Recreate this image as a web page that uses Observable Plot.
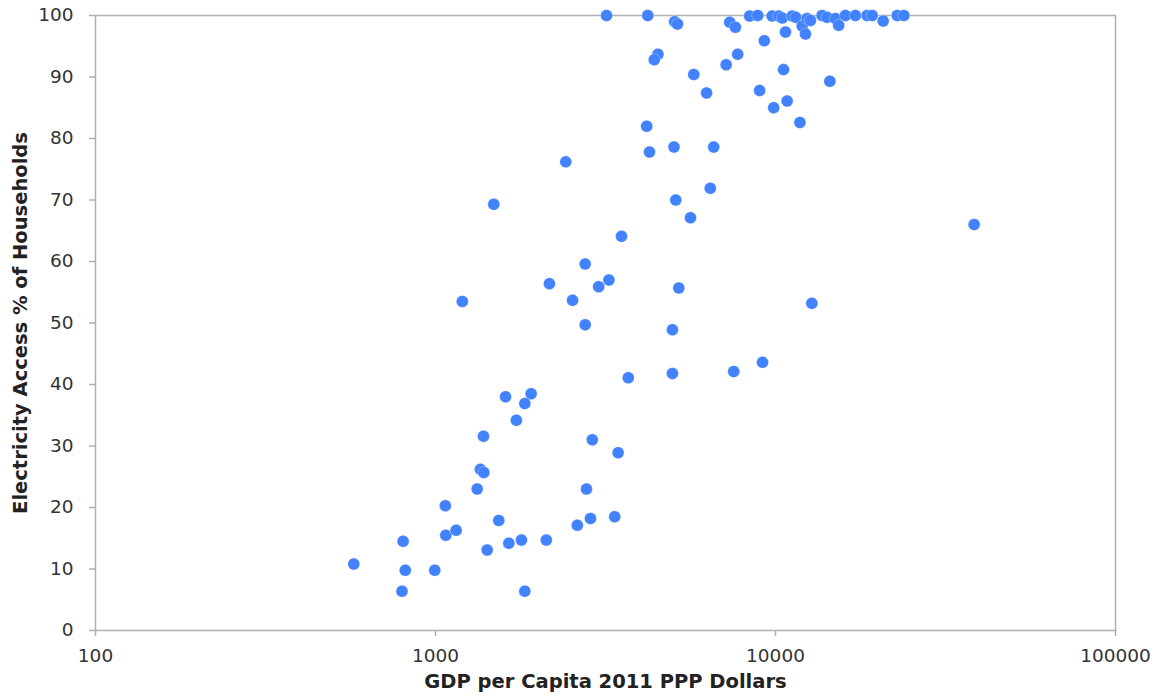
<!DOCTYPE html>
<html>
<head>
<meta charset="utf-8">
<script src="https://cdn.jsdelivr.net/npm/d3@7"></script>
<script src="https://cdn.jsdelivr.net/npm/@observablehq/plot@0.6"></script>
<style>
  html, body { margin: 0; padding: 0; background: #fff; }
  #chart { width: 1161px; height: 698px; }
</style>
</head>
<body>
<div id="chart"></div>
<script>
const gdp = [3184, 4210, 5050, 5150, 7337, 7621, 8395, 8865, 9775, 10230, 10470, 11200, 11460, 11980, 12250, 12390, 12670, 13710, 14180, 15000, 15340, 16060, 17180, 18600, 19250, 20740, 22800, 23850,
  10700, 9270, 4510, 4400, 7740, 7160, 5750, 10560, 14450, 6270, 8980, 10820, 9880, 11800, 4180, 4260, 5030, 6580, 6430, 5090,
  2416, 1484, 5623, 38400, 3525, 2756, 3236, 3020, 2163, 5195, 1199, 2530, 12790, 2756, 4976, 9160, 7535, 4976, 3690,
  1607, 1911, 1831, 1729, 1384, 2892, 3445, 1355, 1387, 1326, 2780, 1069, 1535, 2613, 2856, 3366, 1072, 1150, 803, 1419, 1643, 1790, 2118, 575, 815, 995, 797, 1831];
const access = [100, 100, 99.0, 98.6, 98.9, 98.1, 99.9, 100, 99.9, 99.9, 99.6, 99.9, 99.7, 98.3, 97.0, 99.5, 99.2, 100, 99.7, 99.5, 98.4, 100, 100, 100, 100, 99.1, 100, 100,
  97.3, 95.9, 93.7, 92.8, 93.7, 92.0, 90.4, 91.2, 89.3, 87.4, 87.8, 86.1, 85.0, 82.6, 82.0, 77.8, 78.6, 78.6, 71.9, 70.0,
  76.2, 69.3, 67.1, 66.0, 64.1, 59.6, 57.0, 55.9, 56.4, 55.7, 53.5, 53.7, 53.2, 49.7, 48.9, 43.6, 42.1, 41.8, 41.1,
  38.0, 38.5, 36.9, 34.2, 31.6, 31.0, 28.9, 26.2, 25.7, 23.0, 23.0, 20.3, 17.9, 17.1, 18.2, 18.5, 15.5, 16.3, 14.5, 13.1, 14.2, 14.7, 14.7, 10.8, 9.8, 9.8, 6.4, 6.4];
const xTicks = [100, 1000, 10000, 100000];
const yTicks = [0, 10, 20, 30, 40, 50, 60, 70, 80, 90, 100];
const xTitle = "GDP per Capita 2011 PPP Dollars";
const yTitle = "Electricity Access % of Households";

const data = gdp.map((g, i) => ({gdp: g, access: access[i]}));

const chart = Plot.plot({
  width: 1161,
  height: 698,
  marginLeft: 95,
  marginRight: 46,
  marginTop: 15,
  marginBottom: 68,
  style: {fontFamily: "DejaVu Sans, Verdana, sans-serif", fontSize: "18.5px", color: "#333", background: "#fff"},
  x: {type: "log", domain: [100, 100000]},
  y: {domain: [0, 100]},
  marks: [
    Plot.frame({stroke: "#b0b0b0", strokeWidth: 1.5}),
    Plot.axisY({ticks: yTicks, tickSize: 6, tickPadding: 16, stroke: "#b0b0b0", strokeWidth: 1.5, label: null, fill: "#333"}),
    Plot.axisX({ticks: xTicks, tickFormat: d => String(d), tickSize: 6, tickPadding: 12, stroke: "#b0b0b0", strokeWidth: 1.5, label: null, fill: "#333"}),
    Plot.dot(data, {x: "gdp", y: "access", r: 6, fill: "#4282fd", stroke: "#fff", strokeOpacity: 0.5, strokeWidth: 0.6}),
    Plot.text([xTitle], {frameAnchor: "bottom", dy: 57, textAnchor: "middle", fontWeight: "bold", fill: "#222", fontSize: 19.5}),
    Plot.text([yTitle], {frameAnchor: "left", dx: -75, textAnchor: "middle", rotate: -90, fontWeight: "bold", fill: "#222", fontSize: 19.5})
  ]
});
document.getElementById("chart").appendChild(chart);
</script>
</body>
</html>
